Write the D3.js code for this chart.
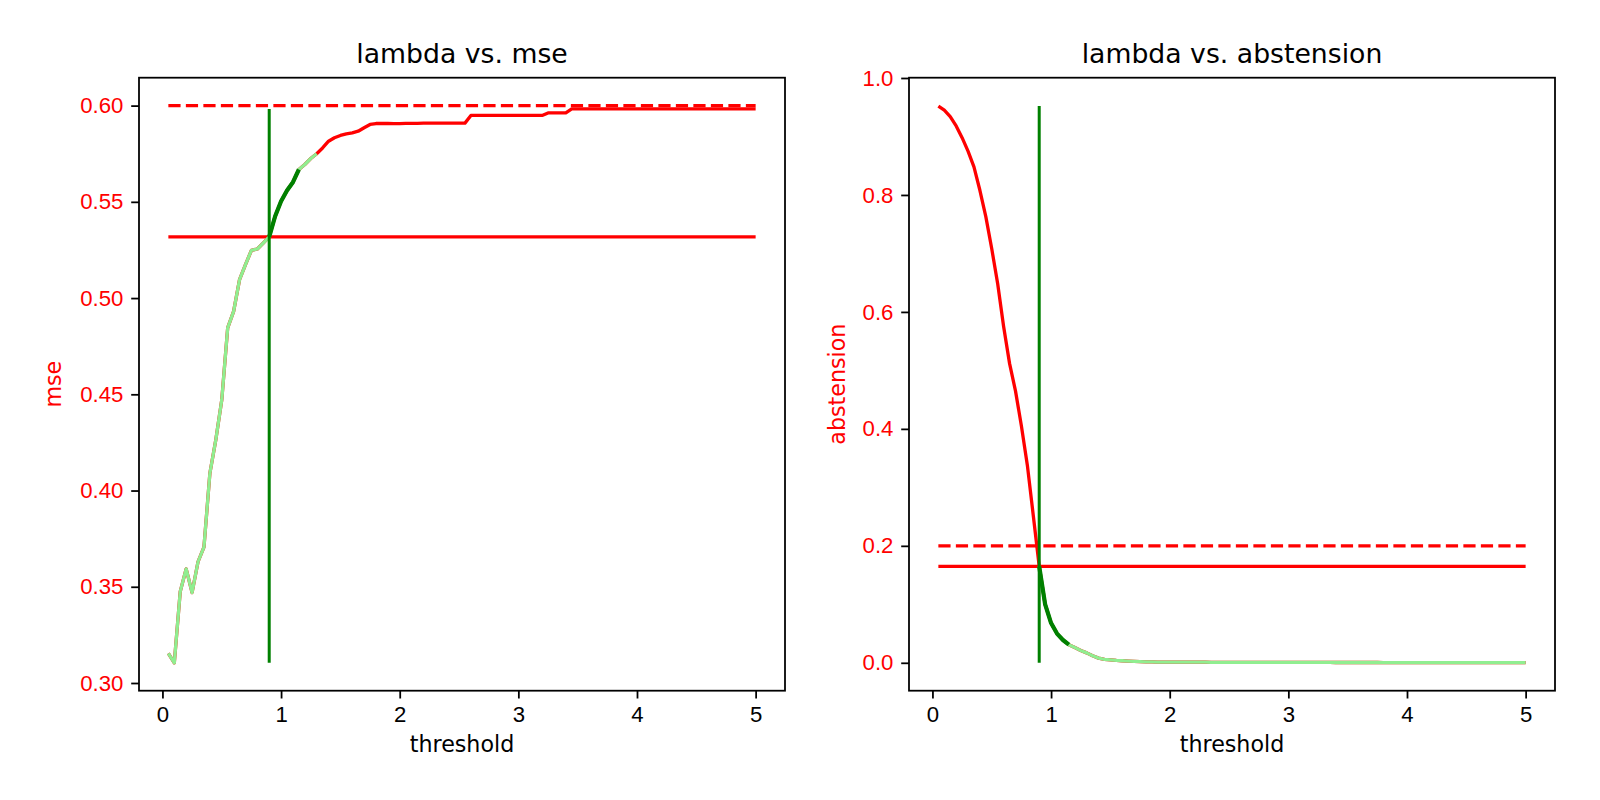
<!DOCTYPE html>
<html>
<head>
<meta charset="utf-8">
<script src="https://cdn.jsdelivr.net/npm/d3@7"></script>
<style>
  body { margin: 0; background: #fff; }
  svg { font-family: "DejaVu Sans", sans-serif; }
  .axis path, .axis line { stroke: #000; stroke-width: 1.78; }
</style>
</head>
<body>
<div class="gv-chart"></div>
<script>
var thresholds = [
  0.05, 0.10, 0.15, 0.20, 0.25, 0.30, 0.35, 0.40, 0.45, 0.50,
  0.55, 0.60, 0.65, 0.70, 0.75, 0.80, 0.85, 0.90, 0.95, 1.00,
  1.05, 1.10, 1.15, 1.20, 1.25, 1.30, 1.35, 1.40, 1.45, 1.50,
  1.55, 1.60, 1.65, 1.70, 1.75, 1.80, 1.85, 1.90, 1.95, 2.00,
  2.05, 2.10, 2.15, 2.20, 2.25, 2.30, 2.35, 2.40, 2.45, 2.50,
  2.55, 2.60, 2.65, 2.70, 2.75, 2.80, 2.85, 2.90, 2.95, 3.00,
  3.05, 3.10, 3.15, 3.20, 3.25, 3.30, 3.35, 3.40, 3.45, 3.50,
  3.55, 3.60, 3.65, 3.70, 3.75, 3.80, 3.85, 3.90, 3.95, 4.00,
  4.05, 4.10, 4.15, 4.20, 4.25, 4.30, 4.35, 4.40, 4.45, 4.50,
  4.55, 4.60, 4.65, 4.70, 4.75, 4.80, 4.85, 4.90, 4.95, 5.00
];

var mse = [
  0.3154, 0.3105, 0.3475, 0.3593, 0.3470, 0.3630, 0.3706, 0.4090, 0.4264, 0.4470,
  0.4845, 0.4931, 0.5096, 0.5174, 0.5248, 0.5255, 0.5286, 0.5318, 0.5425, 0.5503,
  0.5559, 0.5602, 0.5668, 0.5694, 0.5725, 0.5750, 0.5780, 0.5815, 0.5833, 0.5845,
  0.5853, 0.5858, 0.5867, 0.5885, 0.5902, 0.5907, 0.5907, 0.5907, 0.5906, 0.5906,
  0.5908, 0.5908, 0.5908, 0.5909, 0.5909, 0.5909, 0.5909, 0.5909, 0.5909, 0.5909,
  0.5909, 0.5949, 0.5949, 0.5949, 0.5949, 0.5949, 0.5949, 0.5949, 0.5949, 0.5949,
  0.5949, 0.5949, 0.5949, 0.5949, 0.5962, 0.5962, 0.5962, 0.5962, 0.5983, 0.5983,
  0.5983, 0.5983, 0.5983, 0.5983, 0.5983, 0.5983, 0.5983, 0.5983, 0.5983, 0.5983,
  0.5983, 0.5983, 0.5983, 0.5983, 0.5983, 0.5983, 0.5983, 0.5983, 0.5983, 0.5983,
  0.5983, 0.5983, 0.5983, 0.5983, 0.5983, 0.5983, 0.5983, 0.5983, 0.5983, 0.5983
];

var abstension = [
  0.952, 0.945, 0.934, 0.918, 0.898, 0.875, 0.848, 0.808, 0.763, 0.708,
  0.648, 0.575, 0.512, 0.465, 0.405, 0.338, 0.252, 0.165, 0.100, 0.068,
  0.050, 0.039, 0.031, 0.026, 0.021, 0.017, 0.012, 0.008, 0.006, 0.005,
  0.004, 0.0035, 0.003, 0.0025, 0.002, 0.0015, 0.0015, 0.0012, 0.0012, 0.0011,
  0.0011, 0.0010, 0.0010, 0.0010, 0.0010, 0.0010, 0.0009, 0.0009, 0.0009, 0.0009,
  0.0009, 0.0008, 0.0008, 0.0008, 0.0008, 0.0008, 0.0007, 0.0007, 0.0007, 0.0007,
  0.0007, 0.0006, 0.0006, 0.0006, 0.0006, 0.0006, 0.0006, 0.0005, 0.0005, 0.0005,
  0.0005, 0.0005, 0.0005, 0.0005, 0.0005, 0.0004, 0.0004, 0.0004, 0.0004, 0.0004,
  0.0004, 0.0004, 0.0004, 0.0004, 0.0004, 0.0003, 0.0003, 0.0003, 0.0003, 0.0003,
  0.0003, 0.0003, 0.0003, 0.0003, 0.0003, 0.0003, 0.0003, 0.0003, 0.0003, 0.0003
];

// chosen threshold and the reference levels
var chosenThreshold = 0.9;
var mseLevel = 0.5318, mseTarget = 0.600;
var abstLevel = 0.165, abstTarget = 0.2;

// highlighted threshold ranges [from, to]
var mseLight = [0.05, 1.3], mseDark = [0.9, 1.15];
var abstLight = [0.9, 5.0], abstDark = [0.9, 1.15];

var xTicks = [0, 1, 2, 3, 4, 5];
var mseTicks = [0.30, 0.35, 0.40, 0.45, 0.50, 0.55, 0.60];
var abstTicks = [0.0, 0.2, 0.4, 0.6, 0.8, 1.0];

var W = 1600, H = 800;
var axTop = 77.7, axBottom = 690.7, axW = 646;
var labelSize = "22.2px", titleSize = "26.7px";
var lw = 3.3;

var svg = d3.select(".gv-chart").append("svg")
    .attr("width", W).attr("height", H);
svg.append("rect").attr("width", W).attr("height", H).attr("fill", "#fff");

function drawPanel(opts) {
    var x = d3.scaleLinear().domain([-0.1975, 5.2475]).range([opts.left, opts.left + axW]);
    var y = d3.scaleLinear().domain(opts.yDomain).range([axBottom, axTop]);
    var g = svg.append("g");

    var pts = thresholds.map(function(t, i) { return {t: t, v: opts.values[i]}; });
    var line = d3.line().x(function(d) { return x(d.t); }).y(function(d) { return y(d.v); });

    var x0 = thresholds[0], x1 = thresholds[thresholds.length - 1];

    // horizontal reference lines
    g.append("line")
      .attr("x1", x(x0)).attr("x2", x(x1))
      .attr("y1", y(opts.level)).attr("y2", y(opts.level))
      .attr("stroke", "red").attr("stroke-width", lw);
    g.append("line")
      .attr("x1", x(x0)).attr("x2", x(x1))
      .attr("y1", y(opts.target)).attr("y2", y(opts.target))
      .attr("stroke", "red").attr("stroke-width", lw)
      .attr("stroke-dasharray", "12.2,5.3");

    g.append("path").datum(pts)
      .attr("d", line).attr("fill", "none")
      .attr("stroke", "red").attr("stroke-width", lw).attr("stroke-linejoin", "round");

    function inRange(r) {
        return pts.filter(function(d) { return d.t >= r[0] - 1e-9 && d.t <= r[1] + 1e-9; });
    }
    g.append("path").datum(inRange(opts.light))
      .attr("d", line).attr("fill", "none")
      .attr("stroke", "#90ee90").attr("stroke-width", lw).attr("stroke-linejoin", "round");
    g.append("path").datum(inRange(opts.dark))
      .attr("d", line).attr("fill", "none")
      .attr("stroke", "green").attr("stroke-width", 4.2).attr("stroke-linejoin", "round");

    var vmin = d3.min(opts.values), vmax = d3.max(opts.values);
    g.append("line")
      .attr("x1", x(chosenThreshold)).attr("x2", x(chosenThreshold))
      .attr("y1", y(vmin)).attr("y2", y(vmax))
      .attr("stroke", "green").attr("stroke-width", 3);

    // axes
    var xAxis = g.append("g").attr("class", "axis")
      .attr("transform", "translate(0," + axBottom + ")")
      .call(d3.axisBottom(x).tickValues(xTicks).tickFormat(d3.format("d")).tickSizeOuter(0).tickSize(7.8).tickPadding(7.8));
    xAxis.selectAll("text").attr("fill", "#000").style("font-size", labelSize);
    xAxis.select(".domain").remove();

    var yAxis = g.append("g").attr("class", "axis")
      .attr("transform", "translate(" + opts.left + ",0)")
      .call(d3.axisLeft(y).tickValues(opts.ticks).tickFormat(d3.format(opts.fmt)).tickSizeOuter(0).tickSize(7.8).tickPadding(7.8));
    yAxis.selectAll("text").attr("fill", "red").style("font-size", labelSize);
    yAxis.select(".domain").remove();

    g.append("rect")
      .attr("x", opts.left).attr("y", axTop)
      .attr("width", axW).attr("height", axBottom - axTop)
      .attr("fill", "none").attr("stroke", "#000").attr("stroke-width", 1.78);

    var cx = opts.left + axW / 2;
    g.append("text").attr("x", cx).attr("y", 63)
      .attr("text-anchor", "middle").style("font-size", titleSize).attr("fill", "#000")
      .text(opts.title);
    g.append("text").attr("x", cx).attr("y", 752)
      .attr("text-anchor", "middle").style("font-size", labelSize).attr("fill", "#000")
      .text("threshold");
    g.append("text")
      .attr("transform", "translate(" + opts.ylabelX + "," + ((axTop + axBottom) / 2) + ") rotate(-90)")
      .attr("text-anchor", "middle").style("font-size", labelSize).attr("fill", "red")
      .text(opts.ylabel);
}

drawPanel({
    left: 139, values: mse, yDomain: [0.2960, 0.6145],
    level: mseLevel, target: mseTarget, light: mseLight, dark: mseDark,
    ticks: mseTicks, fmt: ".2f", title: "lambda vs. mse", ylabel: "mse", ylabelX: 61
});

drawPanel({
    left: 909, values: abstension, yDomain: [-0.0477, 1.0005],
    level: abstLevel, target: abstTarget, light: abstLight, dark: abstDark,
    ticks: abstTicks, fmt: ".1f", title: "lambda vs. abstension", ylabel: "abstension", ylabelX: 845
});
</script>
</body>
</html>
